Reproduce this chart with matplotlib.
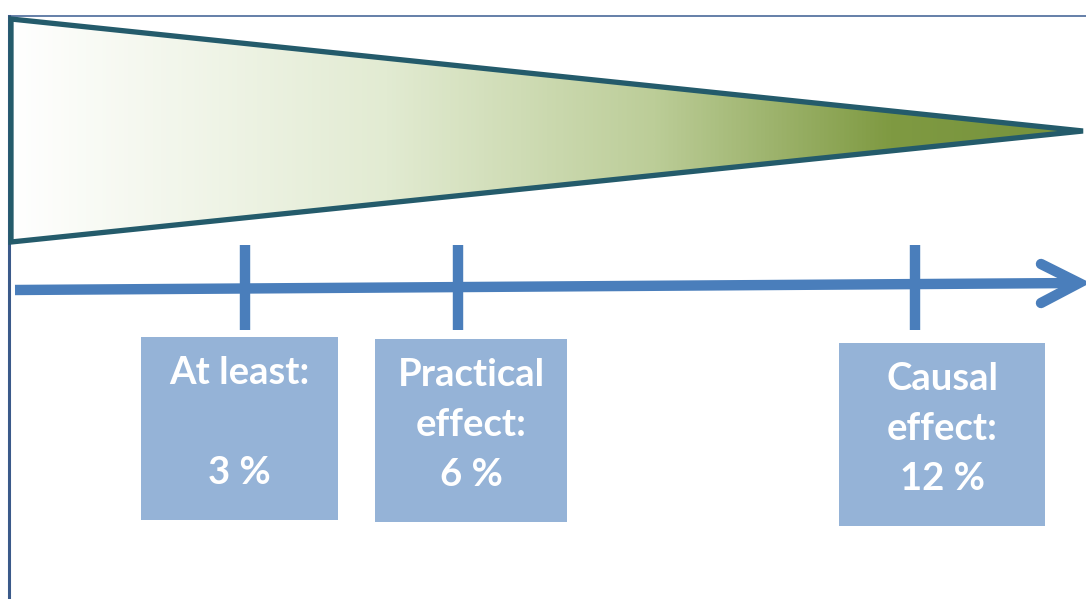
import numpy as np
import matplotlib.pyplot as plt
from matplotlib.patches import Polygon, Rectangle
from matplotlib.colors import LinearSegmentedColormap

# effect size thresholds shown on the diagram
labels = ["At least:\n\n3 %", "Practical\neffect:\n6 %", "Causal\neffect:\n12 %"]
effects = [3, 6, 12]

# layout (pixel coords, y downwards)
tick_x = [245, 458, 915]
boxes = [(141, 337, 197, 183), (375, 339, 192, 183), (839, 343, 206, 183)]

fig = plt.figure(figsize=(10.86, 5.99), dpi=100)
ax = fig.add_axes([0, 0, 1, 1])
ax.set_xlim(0, 1086)
ax.set_ylim(599, 0)
ax.axis('off')

# thin frame on top and left
ax.plot([9, 1086], [16, 16], color='#4a6a9a', lw=1.2, zorder=1)
ax.plot([9, 9], [16, 599], color='#3b5a8a', lw=2.2, zorder=1)

# gradient triangle
tri = [(11, 19), (11, 242), (1083, 131)]
cmap = LinearSegmentedColormap.from_list('g', [(0, '#ffffff'), (0.35, '#e2ebd2'),
                                               (0.6, '#bccd98'), (0.82, '#7f9a42'),
                                               (1, '#76923c')])
grad = np.linspace(0, 1, 512).reshape(1, -1)
im = ax.imshow(grad, cmap=cmap, extent=(10, 1084, 243, 18), aspect='auto', zorder=2)
poly = Polygon(tri, closed=True, fc='none', ec='#245b6b', lw=3.8, joinstyle='miter', zorder=3)
ax.add_patch(poly)
im.set_clip_path(poly)

# arrow axis
arrow_c = '#4a7ebb'
ax.plot([15, 1078], [290, 283], color=arrow_c, lw=7.5, solid_capstyle='butt', zorder=3)
ax.plot([1041, 1079, 1041], [264, 283, 303], color=arrow_c, lw=7.5,
        solid_capstyle='round', solid_joinstyle='miter', zorder=3)

for x in tick_x:
    ax.plot([x, x], [245, 330], color=arrow_c, lw=7.5, solid_capstyle='butt', zorder=3)

# boxes with labels
for (x, y, w, h), lab, e in zip(boxes, labels, effects):
    ax.add_patch(Rectangle((x, y), w, h, fc='#95b3d7', ec='none', zorder=2))
    ax.text(x + w / 2, y + 86, lab, ha='center', va='center', color='white',
            fontsize=27.5, fontweight='bold', family='Lato', linespacing=1.57, zorder=4)

fig.savefig('out.png', dpi=100)
